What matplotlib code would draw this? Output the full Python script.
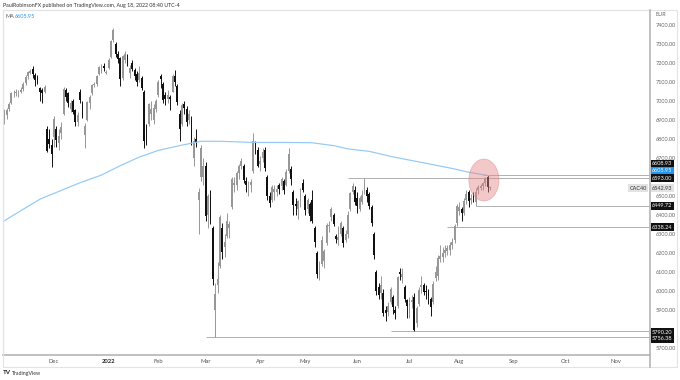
import matplotlib.pyplot as plt
from matplotlib.patches import Ellipse, Rectangle
from matplotlib.lines import Line2D
import pandas as pd

#--------------------------------------DATA--------------------------------------
# CAC40 daily candles (open, high, low, close), one list per month
nov21 = [(6900, 6960, 6880, 6930), (6925, 6965, 6905, 6950), (6960, 6995, 6945, 6983),
         (6990, 7050, 6985, 7040), (7045, 7060, 7020, 7048), (7040, 7062, 7025, 7046),
         (7035, 7060, 7020, 7043), (7050, 7075, 7040, 7059), (7065, 7100, 7055, 7091),
         (7095, 7135, 7085, 7128), (7130, 7160, 7115, 7152), (7150, 7170, 7140, 7157),
         (7170, 7183, 7120, 7141), (7135, 7145, 7080, 7112), (7120, 7135, 7090, 7102),
         (7070, 7075, 7000, 7045), (7060, 7070, 6990, 7042), (7050, 7085, 7040, 7075),
         (6850, 6870, 6730, 6739), (6800, 6850, 6750, 6776), (6770, 6800, 6650, 6721)]
dec21 = [(6810, 6920, 6760, 6903), (6850, 6870, 6760, 6796), (6780, 6850, 6740, 6815),
         (6830, 6890, 6800, 6865), (6930, 7075, 6925, 7065), (7060, 7070, 7000, 7021),
         (7040, 7050, 6970, 6987), (6960, 7005, 6940, 6991), (7000, 7010, 6930, 6943),
         (6950, 6960, 6870, 6891), (6890, 6940, 6870, 6928), (7050, 7065, 6990, 7005),
         (6990, 7000, 6910, 6927), (6820, 6885, 6755, 6870), (6900, 7000, 6895, 6994),
         (6990, 7030, 6960, 7022), (7040, 7090, 7030, 7086), (7085, 7100, 7075, 7087),
         (7090, 7135, 7080, 7132), (7140, 7185, 7135, 7181), (7160, 7195, 7150, 7175),
         (7185, 7200, 7160, 7173), (7150, 7165, 7140, 7153)]
jan22 = [(7175, 7225, 7170, 7217), (7230, 7320, 7225, 7317), (7320, 7385, 7310, 7376),
         (7300, 7310, 7230, 7249), (7245, 7265, 7200, 7219), (7225, 7230, 7080, 7115),
         (7120, 7240, 7110, 7237), (7215, 7262, 7200, 7245), (7240, 7250, 7185, 7200),
         (7150, 7190, 7120, 7175), (7200, 7215, 7160, 7170), (7165, 7175, 7110, 7134),
         (7140, 7160, 7080, 7100), (7110, 7185, 7100, 7150), (7120, 7130, 7060, 7068),
         (7050, 7060, 6750, 6788), (6850, 6880, 6770, 6838), (6880, 6990, 6870, 6982),
         (6930, 7000, 6900, 6960), (6900, 6985, 6880, 6965), (6960, 7010, 6940, 6999)]
feb22 = [(7030, 7110, 7020, 7100), (7130, 7140, 7070, 7115), (7090, 7100, 6990, 7006),
         (7030, 7050, 6980, 7011), (7010, 7060, 6990, 7031), (7020, 7030, 6950, 7009),
         (7050, 7140, 7045, 7131), (7130, 7165, 7080, 7101), (7080, 7090, 6980, 6997),
         (6930, 6950, 6790, 6852), (6880, 6990, 6870, 6979), (6985, 7000, 6930, 6964),
         (6960, 6975, 6870, 6887), (6900, 6950, 6880, 6929), (6900, 6920, 6770, 6788),
         (6700, 6810, 6660, 6787), (6800, 6850, 6760, 6780), (6480, 6540, 6300, 6521),
         (6600, 6770, 6580, 6752), (6600, 6700, 6560, 6659)]
mar22 = [(6660, 6680, 6370, 6396), (6400, 6510, 6330, 6498), (6500, 6530, 6350, 6378),
         (6330, 6340, 6030, 6062), (5900, 6040, 5756.38, 5982), (6030, 6150, 5990, 6062),
         (6130, 6400, 6120, 6387), (6330, 6360, 6170, 6207), (6230, 6300, 6180, 6260),
         (6290, 6410, 6280, 6369), (6330, 6370, 6280, 6355), (6440, 6600, 6430, 6589),
         (6560, 6600, 6520, 6566), (6560, 6630, 6530, 6620), (6620, 6670, 6590, 6658),
         (6660, 6700, 6640, 6682), (6660, 6670, 6570, 6582), (6580, 6600, 6520, 6556),
         (6550, 6580, 6500, 6553), (6560, 6590, 6520, 6576), (6630, 6830, 6620, 6792),
         (6780, 6790, 6720, 6750), (6740, 6760, 6650, 6659)]
apr22 = [(6670, 6710, 6630, 6684), (6700, 6750, 6680, 6731), (6740, 6760, 6630, 6646),
         (6600, 6610, 6480, 6498), (6500, 6520, 6440, 6461), (6480, 6560, 6470, 6545),
         (6520, 6560, 6480, 6538), (6520, 6560, 6500, 6537), (6560, 6570, 6510, 6538),
         (6550, 6600, 6530, 6590), (6580, 6590, 6510, 6534), (6560, 6640, 6550, 6626),
         (6630, 6750, 6620, 6720), (6640, 6660, 6560, 6590), (6520, 6530, 6400, 6450),
         (6460, 6490, 6400, 6445), (6430, 6480, 6380, 6471), (6470, 6540, 6440, 6508),
         (6570, 6590, 6520, 6534)]
may22 = [(6500, 6510, 6400, 6425), (6430, 6490, 6410, 6477), (6460, 6470, 6370, 6396),
         (6480, 6530, 6360, 6368), (6330, 6340, 6230, 6259), (6200, 6210, 6070, 6087),
         (6090, 6160, 6060, 6117), (6140, 6290, 6130, 6269), (6160, 6220, 6120, 6208),
         (6250, 6360, 6240, 6348), (6340, 6370, 6310, 6347), (6390, 6440, 6370, 6430),
         (6400, 6410, 6340, 6353), (6290, 6300, 6250, 6272), (6270, 6340, 6240, 6285),
         (6300, 6370, 6290, 6358), (6330, 6340, 6230, 6253), (6270, 6320, 6260, 6300),
         (6300, 6420, 6280, 6400), (6430, 6520, 6420, 6515), (6520, 6570, 6510, 6555),
         (6530, 6550, 6450, 6469)]
jun22 = [(6490, 6520, 6410, 6447), (6430, 6500, 6420, 6488), (6470, 6530, 6460, 6505),
         (6520, 6593, 6510, 6548), (6530, 6545, 6470, 6500), (6510, 6520, 6430, 6448),
         (6440, 6450, 6340, 6358), (6300, 6310, 6170, 6187), (6100, 6110, 5980, 5999),
         (6020, 6040, 5960, 5979), (5990, 6080, 5960, 6031), (5990, 6010, 5870, 5886),
         (5900, 5920, 5840, 5882), (5890, 5940, 5870, 5920), (5940, 6020, 5930, 6010),
         (5970, 5980, 5880, 5916), (5900, 5920, 5850, 5883), (5920, 6080, 5910, 6073),
         (6100, 6120, 6060, 6087), (6075, 6120, 6040, 6090), (6020, 6030, 5940, 5959),
         (5950, 5960, 5860, 5923)]
jul22 = [(5920, 5970, 5860, 5931), (5940, 5980, 5910, 5953), (5970, 5990, 5790.2, 5795),
         (5830, 5920, 5810, 5912), (5930, 6020, 5920, 6007), (6020, 6080, 5990, 6033),
         (6030, 6040, 5980, 5997), (6000, 6030, 5960, 5994), (5990, 6010, 5930, 5979),
         (5960, 5970, 5870, 5916), (5940, 6050, 5930, 6036), (6070, 6130, 6050, 6101),
         (6080, 6190, 6060, 6176), (6170, 6240, 6150, 6185), (6180, 6230, 6150, 6201),
         (6200, 6240, 6180, 6216), (6210, 6240, 6190, 6225), (6215, 6260, 6190, 6240),
         (6240, 6280, 6220, 6257), (6270, 6350, 6250, 6340), (6360, 6460, 6340, 6449)]
aug22 = [(6420, 6470, 6400, 6440), (6430, 6440, 6370, 6409), (6410, 6490, 6400, 6472),
         (6480, 6530, 6460, 6513), (6520, 6530, 6440, 6472), (6480, 6510, 6460, 6490),
         (6500, 6520, 6470, 6490), (6470, 6540, 6449.72, 6523), (6530, 6560, 6510, 6545),
         (6540, 6565, 6530, 6553), (6550, 6575, 6530, 6569), (6570, 6600, 6550, 6593),
         (6600, 6608.93, 6520, 6548), (6540, 6555, 6530, 6542.93)]

# 200-day moving average
ma_dates = ['2021-11-01', '2021-11-23', '2021-12-16', '2021-12-29', '2022-01-10',
            '2022-01-20', '2022-02-01', '2022-02-14', '2022-02-25', '2022-03-09',
            '2022-03-29', '2022-04-20', '2022-05-05', '2022-05-18', '2022-05-26',
            '2022-06-08', '2022-06-22', '2022-07-12', '2022-07-27', '2022-08-05',
            '2022-08-18']
ma_values = [6362, 6483, 6570, 6610, 6660, 6705, 6740, 6765, 6788, 6788,
             6782, 6782, 6780, 6765, 6748, 6735, 6706, 6672, 6645, 6625, 6605.95]

# drawn horizontal levels and the day each one starts
levels = [6608.93, 6593.00, 6449.72, 6338.24, 5790.20, 5756.38]
level_start = ['2022-08-15', '2022-05-26', '2022-08-10', '2022-07-25', '2022-06-21', '2022-03-01']

price_ticks = [7400, 7300, 7200, 7100, 7000, 6900, 6800, 6700, 6500, 6400, 6300,
               6200, 6100, 6000, 5900, 5700]
month_labels = ['Dec', '2022', 'Feb', 'Mar', 'Apr', 'May', 'Jun', 'Jul', 'Aug', 'Sep', 'Oct', 'Nov']
#--------------------------------------DATA--------------------------------------

# trading calendar (Euronext closed on Good Friday / Easter Monday)
cal = pd.bdate_range('2021-11-01', '2022-12-30')
cal = cal.drop(pd.to_datetime(['2022-04-15', '2022-04-18']))
pos = {d: i for i, d in enumerate(cal)}

candles = nov21 + dec21 + jan22 + feb22 + mar22 + apr22 + may22 + jun22 + jul22 + aug22
days = cal[(cal >= '2021-11-02') & (cal <= '2022-08-18')]

W, H = 680, 380
fig = plt.figure(figsize=(6.8, 3.8), dpi=100)
plt.rcParams['font.family'] = ['Lato', 'DejaVu Sans']

def fx(px):
    return px / W

def fy(py):
    return 1 - py / H

ax = fig.add_axes([fx(3), fy(355), fx(647), 345 / H])

UP = '#979797'
DOWN = '#111111'
for d, (o, h, l, c) in zip(days, candles):
    x = pos[d]
    col = UP if c >= o else DOWN
    ax.vlines(x, l, h, color=col, lw=0.7, zorder=2)
    body = max(abs(c - o), 5)
    ax.bar(x, body, bottom=min(o, c), width=0.78, color=col, lw=0, zorder=3)

ma_x = [pos[pd.Timestamp(d)] for d in ma_dates]
ax.plot(ma_x, ma_values, color='#92c9f7', lw=0.85, zorder=4)

x_right = 273.5
for lv, st in zip(levels, level_start):
    ax.hlines(lv, pos[pd.Timestamp(st)], x_right, color='#b0b0b0', lw=0.7, zorder=1)

ell = Ellipse((pos[pd.Timestamp('2022-08-15')] + 0.4, 6584), 12.7, 221,
              facecolor=(0.90, 0.52, 0.52, 0.45), edgecolor=(0.86, 0.45, 0.45, 0.4),
              lw=0.6, zorder=5)
ax.add_patch(ell)

ax.set_xlim(0.46, x_right)
ax.set_ylim(5663, 7479)

# month ticks on the first session of each month
month_pos = []
for m in pd.date_range('2021-12-01', '2022-11-01', freq='MS'):
    first = cal[cal >= m][0]
    month_pos.append(pos[first])
ax.set_xticks(month_pos)
ax.set_xticklabels(month_labels, fontsize=4.2, color='#555555')
for t in ax.get_xticklabels():
    if t.get_text() == '2022':
        t.set_fontweight('bold')
        t.set_color('#222222')

ax.yaxis.tick_right()
ax.set_yticks(price_ticks)
ax.set_yticklabels(['%.2f' % p for p in price_ticks], fontsize=4, color='#666666')
ax.tick_params(axis='both', length=0)
ax.tick_params(axis='y', pad=4)
ax.tick_params(axis='x', pad=3)

for s in ['left', 'top']:
    ax.spines[s].set_color('#e3e3e3')
    ax.spines[s].set_linewidth(0.8)
ax.spines['right'].set_visible(False)
ax.spines['bottom'].set_color('#b5b5b5')
ax.spines['bottom'].set_linewidth(1.2)

# outer frame and the price scale line
fig.patches.append(Rectangle((fx(3), fy(367)), fx(674), (367 - 10) / H, transform=fig.transFigure,
                             fill=False, edgecolor='#e3e3e3', lw=0.8))
fig.lines.append(Line2D([fx(650), fx(650)], [fy(10), fy(367)], transform=fig.transFigure,
                        color='#b5b5b5', lw=1.2))

# price tags on the scale
def tag(py, text, fc, tc):
    fig.text(fx(652), fy(py), text, fontsize=4, color=tc, ha='left', va='center',
             bbox=dict(boxstyle='square,pad=0.25', fc=fc, ec='none'))

tag(163.5, '6608.93', '#111111', 'white')
tag(170.7, '6605.95', '#2196f3', 'white')
tag(178.3, '6593.00', '#111111', 'white')
tag(188.0, '6542.93', '#e3e3e3', '#333333')
tag(205.7, '6449.72', '#111111', 'white')
tag(227.3, '6338.24', '#111111', 'white')
tag(332.3, '5790.20', '#111111', 'white')
tag(339.0, '5756.38', '#111111', 'white')
fig.text(fx(647), fy(188.0), 'CAC40', fontsize=4, color='#333333', ha='right', va='center',
         bbox=dict(boxstyle='square,pad=0.25', fc='#e3e3e3', ec='none'))

# header, legend, footer
fig.text(fx(3), fy(6), 'PaulRobinsonFX published on TradingView.com, Aug 18, 2022 08:40 UTC-4',
         fontsize=3.8, color='#333333', va='center')
fig.text(fx(6), fy(16), 'MA', fontsize=4, color='#555555', va='center')
fig.text(fx(15), fy(16), '6605.95', fontsize=4, color='#2196f3', va='center')
fig.text(fx(655), fy(15), 'EUR', fontsize=4, color='#666666', va='center')
fig.text(fx(3), fy(373), 'TV', fontsize=4.5, color='#222222', va='center', fontweight='bold')
fig.text(fx(12), fy(373), 'TradingView', fontsize=3.8, color='#333333', va='center')

plt.savefig('out.png', dpi=100)
